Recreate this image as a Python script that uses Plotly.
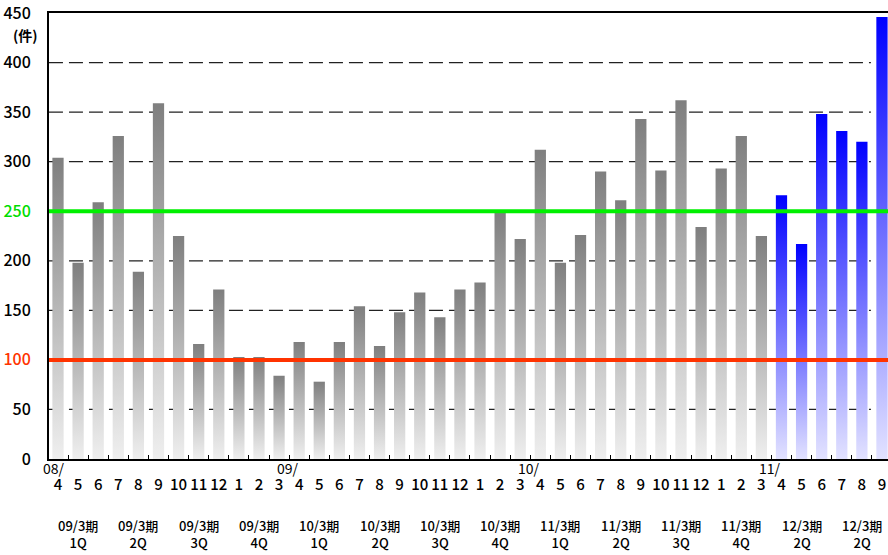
import plotly.graph_objects as go

# monthly counts, Apr 2008 .. Sep 2011
months = ["4", "5", "6", "7", "8", "9", "10", "11", "12", "1", "2", "3",
          "4", "5", "6", "7", "8", "9", "10", "11", "12", "1", "2", "3",
          "4", "5", "6", "7", "8", "9", "10", "11", "12", "1", "2", "3",
          "4", "5", "6", "7", "8", "9"]
counts = [304, 198, 259, 326, 189, 359, 225, 116, 171, 103, 103, 84,
          118, 78, 118, 154, 114, 148, 168, 143, 171, 178, 250, 222,
          312, 198, 226, 290, 261, 343, 291, 362, 234, 293, 326, 225,
          266, 217, 348, 331, 320, 446]
n_past = 36  # first blue bar index (current fiscal year)

year_marks = {0: "08/", 11: "09/", 23: "10/", 35: "11/"}
quarters = ["09/3期<br>1Q", "09/3期<br>2Q", "09/3期<br>3Q", "09/3期<br>4Q",
            "10/3期<br>1Q", "10/3期<br>2Q", "10/3期<br>3Q", "10/3期<br>4Q",
            "11/3期<br>1Q", "11/3期<br>2Q", "11/3期<br>3Q", "11/3期<br>4Q",
            "12/3期<br>2Q", "12/3期<br>2Q"]

y_ticks = [0, 50, 100, 150, 200, 250, 300, 350, 400, 450]
grid_vals = [50, 150, 200, 300, 350, 400]
upper_line = 250
lower_line = 100

FONT = "Noto Sans CJK JP"
BAR_W = 0.56

fig = go.Figure()

# each bar is a filled polygon so it can carry its own vertical gradient
for i, v in enumerate(counts):
    if i < n_past:
        scale = [[0, "#efefef"], [1, "#7f7f7f"]]
    else:
        scale = [[0, "#e2e2ff"], [1, "#0000ff"]]
    x0, x1 = i - BAR_W / 2, i + BAR_W / 2
    fig.add_trace(go.Scatter(
        x=[x0, x0, x1, x1, x0],
        y=[0, v, v, 0, 0],
        mode="lines",
        line=dict(width=0),
        fill="toself",
        fillgradient=dict(type="vertical", colorscale=scale),
        hoverinfo="skip",
        showlegend=False,
    ))

# dashed gridlines behind bars
for g in grid_vals:
    fig.add_shape(type="line", xref="x", yref="y", x0=-0.45, x1=40.45, y0=g, y1=g,
                  line=dict(color="#222222", width=1.3, dash="14px,6px"), layer="below")

# threshold lines
fig.add_shape(type="line", xref="paper", yref="y", x0=0, x1=1, y0=upper_line, y1=upper_line,
              line=dict(color="#00f000", width=4), layer="above")
fig.add_shape(type="line", xref="paper", yref="y", x0=0, x1=1, y0=lower_line, y1=lower_line,
              line=dict(color="#ff3300", width=4), layer="above")

tick_text = []
for t in y_ticks:
    if t == upper_line:
        tick_text.append('<span style="color:#00dd00">%d</span>' % t)
    elif t == lower_line:
        tick_text.append('<span style="color:#ff3300">%d</span>' % t)
    else:
        tick_text.append(str(t))

# year prefixes above the month labels
for i, txt in year_marks.items():
    fig.add_annotation(x=i, y=-0.02, xref="x", yref="paper", text=txt, showarrow=False,
                       xanchor="left", yanchor="middle", xshift=-17 if i == 0 else -4,
                       font=dict(family=FONT, size=14, color="#000"))

# fiscal quarter labels under every 3 months
for q, txt in enumerate(quarters):
    fig.add_annotation(x=q * 3 + 1, y=-0.168, xref="x", yref="paper", text=txt,
                       showarrow=False, xanchor="center", yanchor="middle",
                       font=dict(family=FONT, size=13, color="#000", weight=500))

fig.add_annotation(x=0, y=428, xref="paper", yref="y", text="(件)", showarrow=False,
                   xanchor="right", yanchor="middle", xshift=-9,
                   font=dict(family=FONT, size=14, color="#000", weight="bold"))

fig.update_layout(
    width=888, height=555,
    margin=dict(l=49, r=0, t=13, b=96),
    plot_bgcolor="white", paper_bgcolor="white",
    showlegend=False,
    font=dict(family=FONT, size=15, color="#000"),
    xaxis=dict(
        range=[-0.448, 41.3],
        automargin=False,
        tickmode="array",
        tickvals=list(range(len(months))),
        ticktext=months,
        ticks="",
        ticklabelstandoff=11,
        ticklabeloverflow="allow",
        tickfont=dict(family=FONT, size=15, color="#000", weight=500),
        showgrid=False, zeroline=False,
        showline=True, linecolor="#000", linewidth=2, mirror=True,
        minor=dict(tick0=0.5, dtick=1, ticks="inside", ticklen=4,
                   tickcolor="#000", tickwidth=1, showgrid=False),
    ),
    yaxis=dict(
        range=[0, 450],
        automargin=False,
        tickmode="array",
        tickvals=y_ticks,
        ticktext=tick_text,
        ticks="",
        ticklabelstandoff=13,
        ticklabeloverflow="allow",
        tickfont=dict(family=FONT, size=16, color="#000", weight=500),
        showgrid=False, zeroline=False,
        showline=True, linecolor="#000", linewidth=2,
    ),
)

# drop the default 8px body margin so the figure fills the window exactly
fig.write_html("out.html", config={"displayModeBar": False},
               post_script="document.body.style.margin='0';")
